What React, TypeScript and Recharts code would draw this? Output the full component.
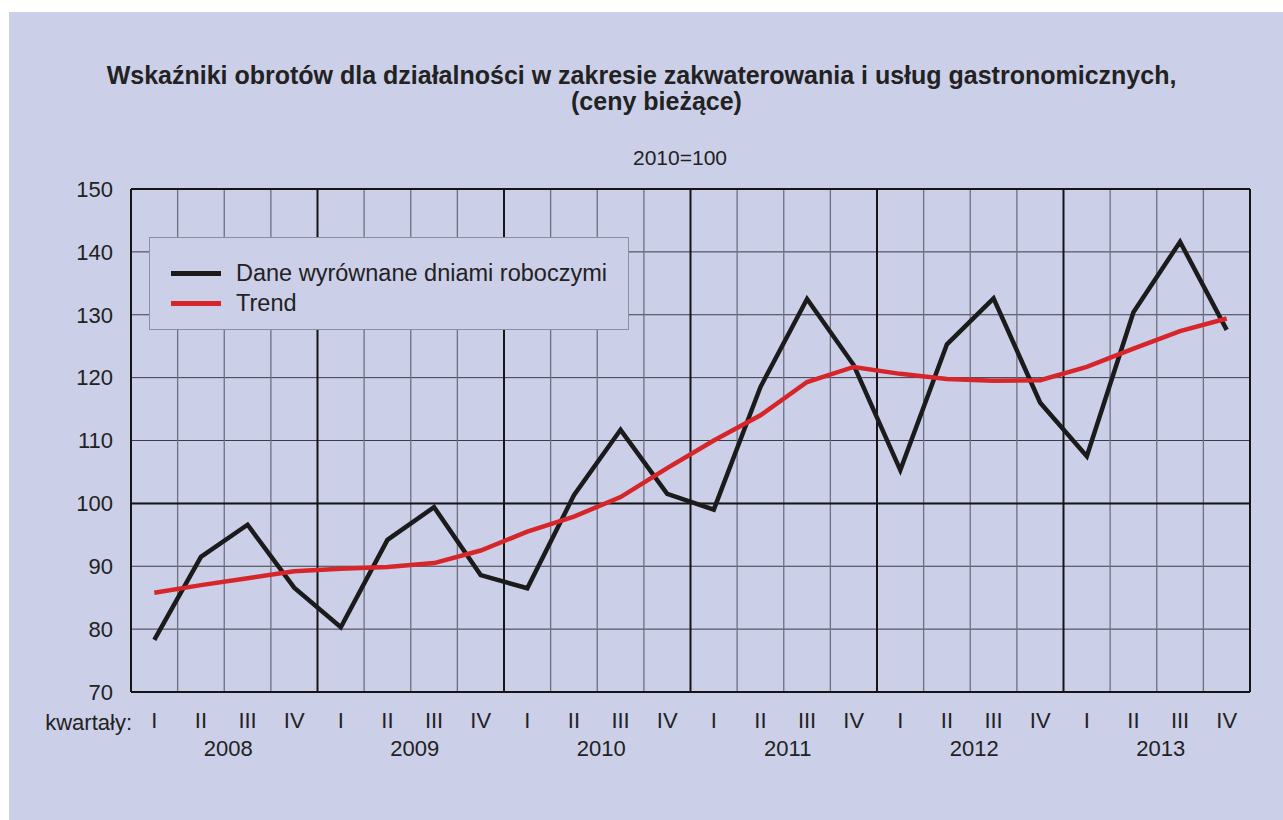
import React from "react";
import {
  LineChart,
  Line,
  XAxis,
  YAxis,
  CartesianGrid,
  ReferenceLine,
  Legend,
  Label,
} from "recharts";

const years = ["2008", "2009", "2010", "2011", "2012", "2013"];
const quarterLabels = ["I", "II", "III", "IV"];

// Dane wyrównane dniami roboczymi (2010=100)
const adjusted = [
  78.3, 91.5, 96.6, 86.6,
  80.3, 94.2, 99.4, 88.6,
  86.5, 101.3, 111.7, 101.5,
  99.0, 118.5, 132.5, 122.0,
  105.3, 125.3, 132.6, 116.0,
  107.5, 130.4, 141.6, 127.6,
];

// Trend
const trend = [
  85.8, 87.0, 88.1, 89.2,
  89.6, 89.9, 90.5, 92.5,
  95.5, 97.9, 101.0, 105.6,
  110.0, 114.0, 119.3, 121.7,
  120.6, 119.8, 119.5, 119.6,
  121.7, 124.6, 127.4, 129.4,
];

const yTicks = [70, 80, 90, 100, 110, 120, 130, 140, 150];

const nQ = years.length * quarterLabels.length;
const data = adjusted.map((v, i) => ({
  pos: i + 0.5,
  quarter: quarterLabels[i % 4],
  adjusted: v,
  trend: trend[i],
}));
const quarterTicks = data.map((d) => d.pos);
const yearTicks = years.map((_, i) => i * 4 + 2);
const boundaries = Array.from({ length: nQ - 1 }, (_, i) => i + 1);

const BG = "#cbcfe8";
const FONT = "'Liberation Sans', Arial, Helvetica, sans-serif";

const legendItems = [
  { label: "Dane wyrównane dniami roboczymi", color: "#1b1b1b" },
  { label: "Trend", color: "#d6262a" },
];

function LegendBox() {
  return (
    <div
      style={{
        width: 480,
        height: 93,
        border: "1px solid #8c8ea0",
        background: BG,
        boxSizing: "border-box",
        paddingTop: 20,
        paddingLeft: 21,
        fontFamily: FONT,
      }}
    >
      {legendItems.map((it) => (
        <div key={it.label} style={{ display: "flex", alignItems: "center", height: 30 }}>
          <div style={{ width: 50, height: 5, background: it.color, marginRight: 15 }} />
          <span style={{ fontSize: 23.5, color: "#222" }}>{it.label}</span>
        </div>
      ))}
    </div>
  );
}

export default function App() {
  return (
    <div
      style={{
        position: "fixed",
        left: 0,
        top: 0,
        width: 1283,
        height: 820,
        background: "#ffffff",
        fontFamily: FONT,
        color: "#222",
      }}
    >
      <div style={{ position: "absolute", left: 9, top: 12, width: 1274, height: 808, background: BG }}>
        <LineChart
          width={1274}
          height={808}
          data={data}
          margin={{ top: 177, right: 33, bottom: 48, left: 22 }}
        >
          <CartesianGrid vertical={false} stroke="#3c3c48" strokeWidth={1} />
          {boundaries.map((b) => (
            <ReferenceLine
              key={b}
              x={b}
              stroke={b % 4 === 0 ? "#151515" : "#6e7080"}
              strokeWidth={b % 4 === 0 ? 2 : 1.3}
            />
          ))}
          <ReferenceLine y={100} stroke="#151515" strokeWidth={2} />
          <ReferenceLine y={150} stroke="#151515" strokeWidth={2} />
          <ReferenceLine x={nQ} stroke="#151515" strokeWidth={2} />
          <XAxis
            dataKey="pos"
            type="number"
            domain={[0, nQ]}
            ticks={quarterTicks}
            tickFormatter={(v: number) => quarterLabels[Math.floor(v) % 4]}
            interval={0}
            height={40}
            tickSize={0}
            tickMargin={20}
            axisLine={{ stroke: "#151515", strokeWidth: 2 }}
            tick={{ fill: "#222", fontSize: 22, fontFamily: FONT }}
          >
            <Label
              content={(props: any) => {
                const vb = props.viewBox || {};
                return (
                  <text
                    x={vb.x + 1}
                    y={(vb.y ?? 0) + 30}
                    textAnchor="end"
                    dominantBaseline="central"
                    fill="#222"
                    fontSize={22}
                    fontFamily={FONT}
                  >
                    kwartały:
                  </text>
                );
              }}
            />
          </XAxis>
          <XAxis
            xAxisId="year"
            dataKey="pos"
            type="number"
            domain={[0, nQ]}
            ticks={yearTicks}
            tickFormatter={(v: number) => years[Math.floor(v / 4)]}
            interval={0}
            height={40}
            tickSize={0}
            tickMargin={8}
            axisLine={false}
            tickLine={false}
            tick={{ fill: "#222", fontSize: 22, fontFamily: FONT, dx: 4 }}
          />
          <YAxis
            domain={[70, 150]}
            ticks={yTicks}
            width={100}
            tickSize={0}
            tickMargin={18}
            axisLine={{ stroke: "#151515", strokeWidth: 2 }}
            tick={{ fill: "#222", fontSize: 22, fontFamily: FONT }}
          />
          <Legend
            layout="vertical"
            verticalAlign="middle"
            align="center"
            wrapperStyle={{ left: 140, top: 225, width: 480 }}
            content={() => <LegendBox />}
          />
          <Line
            type="linear"
            dataKey="adjusted"
            stroke="#1b1b1b"
            strokeWidth={4.5}
            dot={false}
            isAnimationActive={false}
          />
          <Line
            type="linear"
            dataKey="trend"
            stroke="#d6262a"
            strokeWidth={4.5}
            dot={false}
            isAnimationActive={false}
          />
        </LineChart>
      </div>
      <div
        style={{
          position: "absolute",
          left: 0,
          top: 61,
          width: 1283,
          textAlign: "center",
          fontSize: 25,
          fontWeight: "bold",
          lineHeight: "28px",
          whiteSpace: "nowrap",
        }}
      >
        Wskaźniki obrotów dla działalności w zakresie zakwaterowania i usług gastronomicznych,
      </div>
      <div
        style={{
          position: "absolute",
          left: 30,
          top: 87,
          width: 1253,
          textAlign: "center",
          fontSize: 25,
          fontWeight: "bold",
          lineHeight: "28px",
        }}
      >
        (ceny bieżące)
      </div>
      <div
        style={{
          position: "absolute",
          left: 580,
          top: 145,
          width: 200,
          textAlign: "center",
          fontSize: 21,
          lineHeight: "26px",
        }}
      >
        2010=100
      </div>
    </div>
  );
}
